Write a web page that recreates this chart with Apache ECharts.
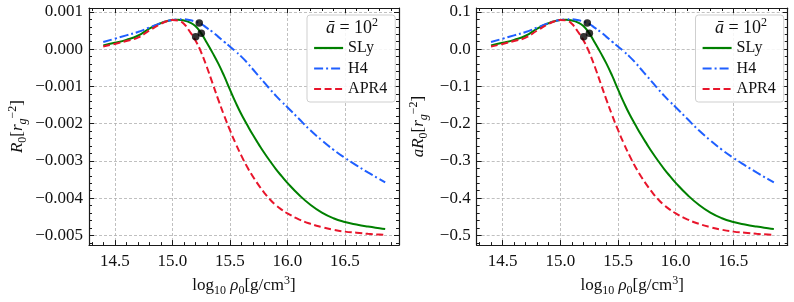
<!DOCTYPE html>
<html><head><meta charset="utf-8">
<script src="https://cdn.jsdelivr.net/npm/echarts@6/dist/echarts.min.js"></script>
<style>html,body{margin:0;padding:0;background:#fff}#c{width:794px;height:302px}</style>
</head><body><div id="c"></div><script>
// ---- data ----
const rho = [14.40,14.50,14.60,14.70,14.80,14.90,14.95,15.00,15.05,15.10,15.15,15.20,15.25,15.30,15.35,15.40,15.45,15.50,15.55,15.60,15.65,15.70,15.75,15.80,15.85,15.90,15.95,16.00,16.10,16.20,16.30,16.40,16.50,16.60,16.70,16.80,16.85];
const R0_SLy = [1.0e-4,1.7e-4,2.5e-4,3.6e-4,5.5e-4,7.0e-4,7.5e-4,7.8e-4,7.9e-4,7.7e-4,7.2e-4,6.2e-4,4.3e-4,1.7e-4,-1.0e-4,-3.9e-4,-7.2e-4,-10.8e-4,-14.3e-4,-17.5e-4,-20.3e-4,-23.0e-4,-25.5e-4,-27.9e-4,-30.1e-4,-32.2e-4,-34.1e-4,-35.9e-4,-39.1e-4,-41.8e-4,-43.9e-4,-45.4e-4,-46.4e-4,-47.1e-4,-47.65e-4,-48.1e-4,-48.3e-4];
const R0_H4 = [1.9e-4,2.8e-4,3.7e-4,4.6e-4,5.8e-4,7.0e-4,7.5e-4,7.8e-4,8.0e-4,8.0e-4,7.8e-4,7.4e-4,6.8e-4,5.7e-4,4.6e-4,3.3e-4,2.0e-4,0.7e-4,-0.6e-4,-2.0e-4,-3.6e-4,-5.4e-4,-7.2e-4,-9.0e-4,-10.8e-4,-12.5e-4,-14.1e-4,-15.6e-4,-18.7e-4,-21.8e-4,-24.5e-4,-27.0e-4,-29.2e-4,-31.2e-4,-33.1e-4,-34.9e-4,-35.8e-4];
const R0_APR4 = [0.7e-4,1.4e-4,2.2e-4,3.1e-4,5.0e-4,6.8e-4,7.5e-4,7.85e-4,7.7e-4,6.8e-4,4.8e-4,2.4e-4,-0.8e-4,-4.8e-4,-9.2e-4,-13.6e-4,-17.8e-4,-21.7e-4,-25.3e-4,-28.6e-4,-31.6e-4,-34.2e-4,-36.5e-4,-38.6e-4,-40.4e-4,-41.9e-4,-43.1e-4,-44.1e-4,-45.7e-4,-46.9e-4,-47.8e-4,-48.5e-4,-49.0e-4,-49.3e-4,-49.6e-4,-49.8e-4,-49.9e-4];
const dotRho = [15.234,15.252,15.203];
const dotR0 = [7.0e-4,4.3e-4,3.3e-4];
const aBar = 100;
const xMajorTicks = [14.5,15.0,15.5,16.0,16.5];
const yMajorTicksL = [-0.005,-0.004,-0.003,-0.002,-0.001,0,0.001];
const yMajorTicksR = [-0.5,-0.4,-0.3,-0.2,-0.1,0,0.1];

// ---- helpers ----
const FONT = 'Liberation Serif';
const X_MIN = 14.276, X_MAX = 16.97;
const Y_MIN_L = -0.005262, Y_MAX_L = 0.001105;
function minorList(a, b, step, majors, dec) {
  const out = [];
  for (let k = Math.round(a/step); k <= Math.round(b/step); k++) {
    const v = +(k*step).toFixed(dec);
    if (!majors.some(m => Math.abs(m - v) < step/10)) out.push(v);
  }
  return out;
}
const xMinor = minorList(14.3, 16.9, 0.1, xMajorTicks, 2);
const yMinorL = minorList(-0.0052, 0.0010, 0.0002, yMajorTicksL, 5);
const yMinorR = minorList(-0.52, 0.10, 0.02, yMajorTicksR, 3);
const fmt = (v, d) => (Math.abs(v) < 1e-12 ? 0 : v).toFixed(d).replace('-', '\u2212');
const lineCol = '#1a1a1a';
const gridLine = {show:true, lineStyle:{color:'#b0b0b0', type:[3,2], width:0.8}};
const richT = {
  n:{fontFamily:FONT, fontSize:17, color:'#111', lineHeight:22},
  i:{fontFamily:FONT, fontSize:17, fontStyle:'italic', color:'#111', lineHeight:22},
  sub:{fontFamily:FONT, fontSize:12, color:'#111', lineHeight:13, verticalAlign:'bottom'},
  subi:{fontFamily:FONT, fontSize:12, fontStyle:'italic', color:'#111', lineHeight:13, verticalAlign:'bottom'},
  sup:{fontFamily:FONT, fontSize:12, color:'#111', lineHeight:13, verticalAlign:'top'}
};
function xAxes(g) {
  const base = {type:'value', gridIndex:g, min:X_MIN, max:X_MAX, axisLine:{onZero:false, lineStyle:{color:lineCol, width:1.2}}};
  return [
    Object.assign({}, base, {position:'bottom', axisTick:{inside:true, length:5, customValues:xMajorTicks, lineStyle:{color:lineCol}},
      axisLabel:{customValues:xMajorTicks, margin:8, color:'#111', fontFamily:FONT, fontSize:17, formatter:v=>v.toFixed(1)},
      splitLine:gridLine,
      name:'{n|log}{sub|10}{n| }{i|\u03c1}{sub|0}{n|[g/cm}{sup|3}{n|]}', nameLocation:'middle', nameGap:24,
      nameTextStyle:{rich:richT}}),
    Object.assign({}, base, {position:'top', axisTick:{inside:true, length:5, customValues:xMajorTicks, lineStyle:{color:lineCol}}, axisLabel:{show:false}, splitLine:{show:false}}),
    Object.assign({}, base, {position:'bottom', axisLine:{show:false, onZero:false}, axisTick:{inside:true, length:3, customValues:xMinor, lineStyle:{color:lineCol}}, axisLabel:{show:false}, splitLine:{show:false}}),
    Object.assign({}, base, {position:'top', axisLine:{show:false, onZero:false}, axisTick:{inside:true, length:3, customValues:xMinor, lineStyle:{color:lineCol}}, axisLabel:{show:false}, splitLine:{show:false}})
  ];
}
function yAxes(g, mn, mx, majors, minors, d, name) {
  const base = {type:'value', gridIndex:g, min:mn, max:mx, axisLine:{onZero:false, lineStyle:{color:lineCol, width:1.2}}};
  return [
    Object.assign({}, base, {position:'left', axisTick:{inside:true, length:5, customValues:majors, lineStyle:{color:lineCol}},
      axisLabel:{customValues:majors, margin:6, color:'#111', fontFamily:FONT, fontSize:17, formatter:v=>fmt(v,d)},
      splitLine:gridLine, name:name, nameLocation:'middle', nameGap:d===3?60:47, nameRotate:90, nameTextStyle:{rich:richT}}),
    Object.assign({}, base, {position:'right', axisTick:{inside:true, length:5, customValues:majors, lineStyle:{color:lineCol}}, axisLabel:{show:false}, splitLine:{show:false}}),
    Object.assign({}, base, {position:'left', axisLine:{show:false, onZero:false}, axisTick:{inside:true, length:3, customValues:minors, lineStyle:{color:lineCol}}, axisLabel:{show:false}, splitLine:{show:false}}),
    Object.assign({}, base, {position:'right', axisLine:{show:false, onZero:false}, axisTick:{inside:true, length:3, customValues:minors, lineStyle:{color:lineCol}}, axisLabel:{show:false}, splitLine:{show:false}})
  ];
}
const COLORS = {SLy:'#008000', H4:'#1f5fff', APR4:'#e8152b'};
const TYPES = {SLy:'solid', H4:[9,3,2,3], APR4:[7,3.5]};
function seriesFor(g, scale) {
  const idx = 4*g;
  const mk = (name, arr) => ({
    name, type:'line', xAxisIndex:idx, yAxisIndex:idx, showSymbol:false, symbol:'none', smooth:0.5,
    data: rho.map((x,i)=>[x, arr[i]*scale]), lineStyle:{color:COLORS[name], width:2, type:TYPES[name]}, itemStyle:{color:COLORS[name]}, z:3
  });
  return [mk('SLy', R0_SLy), mk('H4', R0_H4), mk('APR4', R0_APR4),
    {type:'scatter', xAxisIndex:idx, yAxisIndex:idx, symbolSize:7.5, itemStyle:{color:'#000'}, z:5,
     data: dotRho.map((x,i)=>[x, dotR0[i]*scale])}];
}
function legendFor(left) {
  return {left:left, top:15, orient:'vertical', data:['SLy','H4','APR4'], padding:[25,8,5,6], itemGap:4.5,
    itemWidth:29, itemHeight:14, backgroundColor:'rgba(255,255,255,0.85)', borderColor:'#cfcfcf', borderWidth:1, borderRadius:3,
    itemStyle:{opacity:0}, lineStyle:{width:2.2},
    textStyle:{fontFamily:FONT, fontSize:16, color:'#111', lineHeight:14}};
}
const titleRich = {
  i:{fontFamily:FONT, fontSize:18, fontStyle:'italic', fill:'#111', lineHeight:22},
  n:{fontFamily:FONT, fontSize:18, fill:'#111', lineHeight:22},
  sup:{fontFamily:FONT, fontSize:12, fill:'#111', lineHeight:13, verticalAlign:'top'}
};
const option = {
  animation:false,
  textStyle:{fontFamily:FONT},
  grid:[{left:89, right:395, top:8, bottom:51.3}, {left:476.7, right:6.3, top:8, bottom:51.3}],
  xAxis:[...xAxes(0), ...xAxes(1)],
  yAxis:[...yAxes(0, Y_MIN_L, Y_MAX_L, yMajorTicksL, yMinorL, 3, '{i|R}{sub|0}{n|[}{i|r}{subi|g}{sup|\u22122}{n|]}'),
         ...yAxes(1, Y_MIN_L*aBar, Y_MAX_L*aBar, yMajorTicksR, yMinorR, 1, '{i|aR}{sub|0}{n|[}{i|r}{subi|g}{sup|\u22122}{n|]}')],
  legend:[legendFor(307), legendFor(695.5)],
  graphic:[
    {type:'text', x:352, y:28, z:100, style:{text:'{i|\u0101}{n| = 10}{sup|2}', rich:titleRich, align:'center', verticalAlign:'middle'}},
    {type:'text', x:741, y:28, z:100, style:{text:'{i|\u0101}{n| = 10}{sup|2}', rich:titleRich, align:'center', verticalAlign:'middle'}}
  ],
  series:[...seriesFor(0, 1), ...seriesFor(1, aBar)]
};
const chart = echarts.init(document.getElementById('c'), null, {renderer:'canvas'});
chart.setOption(option);
</script></body></html>
